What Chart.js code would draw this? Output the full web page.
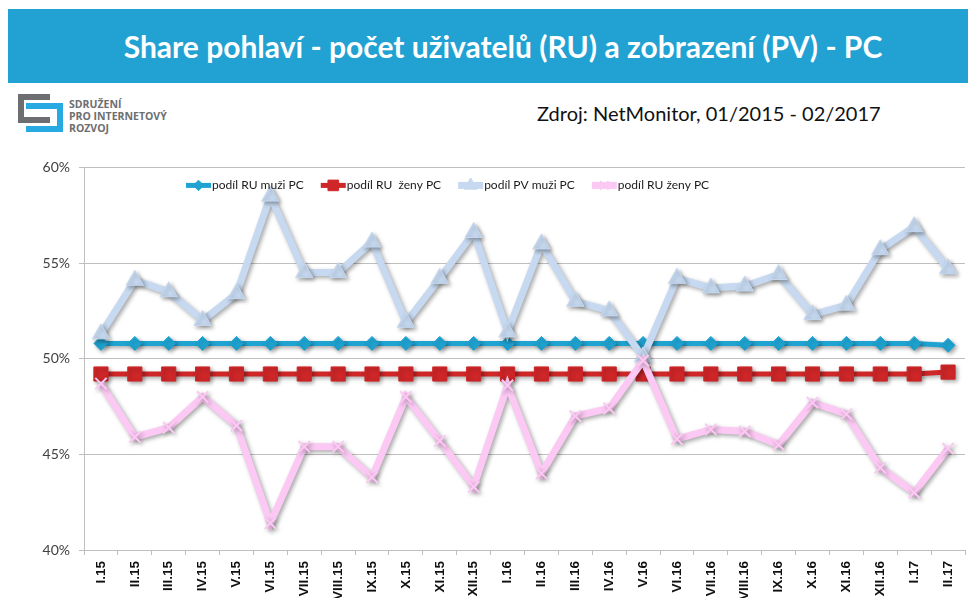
<!DOCTYPE html>
<html>
<head>
<meta charset="utf-8">
<script src="https://cdn.jsdelivr.net/npm/chart.js@4/dist/chart.umd.min.js"></script>
<style>
  body { margin: 0; background: #fff; width: 976px; height: 598px; overflow: hidden; position: relative; font-family: Lato, sans-serif; }
  #titulek { position: absolute; left: 8px; top: 9px; width: 960px; height: 74px; background: #21a2d3; color: #fff;
    font: bold 30px Lato, sans-serif; text-align: center; line-height: 74px; text-indent: 30px; }
  #zdroj { position: absolute; left: 537px; top: 101px; font: 20px Lato, sans-serif; color: #111; }
  .logo { position: absolute; box-sizing: border-box; }
  #logoSeda { left: 18px; top: 94px; width: 32px; height: 29px; border: 6px solid #6d6e71; border-right: none; }
  #logoModra { left: 26px; top: 103px; width: 37px; height: 29px; border: 6px solid #27a9e1; border-left: none; }
  #logoText { position: absolute; left: 69px; top: 98px; font: bold 10.5px "Open Sans", sans-serif; color: #6d6e71; line-height: 12px; }
  #graf { position: absolute; left: 0; top: 150px; }
</style>
</head>
<body>
<div id="titulek">Share pohlaví - počet uživatelů (RU) a zobrazení (PV) - PC</div>
<div class="logo" id="logoSeda"></div>
<div class="logo" id="logoModra"></div>
<div id="logoText">SDRUŽENÍ<br>PRO INTERNETOVÝ<br>ROZVOJ</div>
<div id="zdroj">Zdroj: NetMonitor, 01/2015 - 02/2017</div>
<canvas id="graf" width="976" height="448"></canvas>
<script>
// data (v %)
const mesice = ['I.15', 'II.15', 'III.15', 'IV.15', 'V.15', 'VI.15', 'VII.15', 'VIII.15', 'IX.15', 'X.15', 'XI.15', 'XII.15',
  'I.16', 'II.16', 'III.16', 'IV.16', 'V.16', 'VI.16', 'VII.16', 'VIII.16', 'IX.16', 'X.16', 'XI.16', 'XII.16', 'I.17', 'II.17'];
const ruMuzi = [50.8, 50.8, 50.8, 50.8, 50.8, 50.8, 50.8, 50.8, 50.8, 50.8, 50.8, 50.8, 50.8,
  50.8, 50.8, 50.8, 50.8, 50.8, 50.8, 50.8, 50.8, 50.8, 50.8, 50.8, 50.8, 50.7];
const ruZeny = [49.2, 49.2, 49.2, 49.2, 49.2, 49.2, 49.2, 49.2, 49.2, 49.2, 49.2, 49.2, 49.2,
  49.2, 49.2, 49.2, 49.2, 49.2, 49.2, 49.2, 49.2, 49.2, 49.2, 49.2, 49.2, 49.3];
const pvMuzi = [51.3, 54.1, 53.5, 52.0, 53.4, 58.5, 54.5, 54.5, 56.1, 51.9, 54.2, 56.6, 51.4,
  56.0, 53.0, 52.5, 50.1, 54.2, 53.7, 53.8, 54.4, 52.3, 52.8, 55.7, 56.9, 54.7];
const pvZeny = [48.7, 45.9, 46.4, 48.0, 46.5, 41.4, 45.4, 45.4, 43.8, 48.0, 45.7, 43.3, 48.6,
  44.0, 47.0, 47.4, 49.9, 45.8, 46.3, 46.2, 45.5, 47.7, 47.1, 44.3, 43.0, 45.3];
const yTicky = [40, 45, 50, 55, 60];

const seda = '#bfbfbf';

// stín pod čarami
const stinPlugin = {
  id: 'stin',
  beforeDatasetDraw(chart) {
    const ctx = chart.ctx;
    ctx.save();
    ctx.shadowColor = 'rgba(0,0,0,0.35)';
    ctx.shadowBlur = 4;
    ctx.shadowOffsetX = 2;
    ctx.shadowOffsetY = 2;
  },
  afterDatasetDraw(chart) {
    chart.ctx.restore();
  },
};

// legenda uvnitř plochy grafu
const legendaPlugin = {
  id: 'legenda',
  afterDraw(chart) {
    const ctx = chart.ctx;
    const y = chart.chartArea.top + 18;
    let x = 186;
    ctx.save();
    ctx.font = '12px Lato, sans-serif';
    ctx.textBaseline = 'middle';
    chart.data.datasets.forEach((ds) => {
      ctx.strokeStyle = ds.borderColor;
      ctx.fillStyle = ds.backgroundColor;
      ctx.lineWidth = ds.borderWidth;
      ctx.beginPath();
      ctx.moveTo(x, y);
      ctx.lineTo(x + 25, y);
      ctx.stroke();
      ctx.lineWidth = ds.pointBorderWidth;
      Chart.helpers.drawPoint(ctx, {
        pointStyle: ds.pointStyle,
        radius: ds.pointRadius * 0.75,
        borderWidth: ds.pointBorderWidth,
        rotation: 0,
      }, x + 12.5, y);
      ctx.fillStyle = '#1a1a1a';
      ctx.fillText(ds.label, x + 26, y);
      x += 26 + ctx.measureText(ds.label).width + 17;
    });
    ctx.restore();
  },
};

new Chart(document.getElementById('graf'), {
  type: 'line',
  data: {
    labels: mesice,
    datasets: [
      {
        label: 'podíl RU muži PC',
        data: ruMuzi,
        borderColor: '#1fa3d1',
        backgroundColor: '#1fa3d1',
        borderWidth: 5,
        pointStyle: 'rectRot',
        pointRadius: 7,
        pointBorderWidth: 1,
        order: 4,
      },
      {
        label: 'podíl RU  ženy PC',
        data: ruZeny,
        borderColor: '#cf2628',
        backgroundColor: '#cf2628',
        borderWidth: 5,
        pointStyle: 'rect',
        pointRadius: 10,
        pointBorderWidth: 1,
        order: 3,
      },
      {
        label: 'podíl PV muži PC',
        data: pvMuzi,
        borderColor: '#c6d9f0',
        backgroundColor: '#c6d9f0',
        borderWidth: 7,
        pointStyle: 'triangle',
        pointRadius: 10,
        pointBorderWidth: 1,
        order: 2,
      },
      {
        label: 'podíl RU ženy PC',
        data: pvZeny,
        borderColor: '#fcc8f4',
        backgroundColor: '#fcc8f4',
        borderWidth: 7,
        pointStyle: 'crossRot',
        pointRadius: 8,
        pointBorderWidth: 2,
        order: 1,
      },
    ],
  },
  options: {
    responsive: false,
    devicePixelRatio: 1,
    animation: false,
    layout: { padding: { top: 13, right: 5, left: 0, bottom: 0 } },
    plugins: {
      legend: { display: false },
      tooltip: { enabled: false },
    },
    elements: { line: { tension: 0 } },
    scales: {
      x: {
        offset: true,
        grid: { offset: true, drawOnChartArea: false, color: seda, tickLength: 5 },
        border: { color: seda },
        ticks: {
          autoSkip: false,
          minRotation: 90,
          maxRotation: 90,
          padding: 6,
          color: '#111',
          font: { family: 'Liberation Sans, Arial, sans-serif', size: 13.5, weight: 'bold' },
        },
        afterFit(scale) { scale.height = 48; },
      },
      y: {
        min: 40,
        max: 60,
        afterBuildTicks(scale) { scale.ticks = yTicky.map((v) => ({ value: v })); },
        grid: { color: seda, tickLength: 5 },
        border: { color: seda },
        ticks: {
          padding: 9,
          color: '#404040',
          font: { family: 'Lato, sans-serif', size: 14 },
          callback: (v) => v + '%',
        },
        afterFit(scale) { scale.width = 84; },
      },
    },
  },
  plugins: [stinPlugin, legendaPlugin],
});
</script>
</body>
</html>
